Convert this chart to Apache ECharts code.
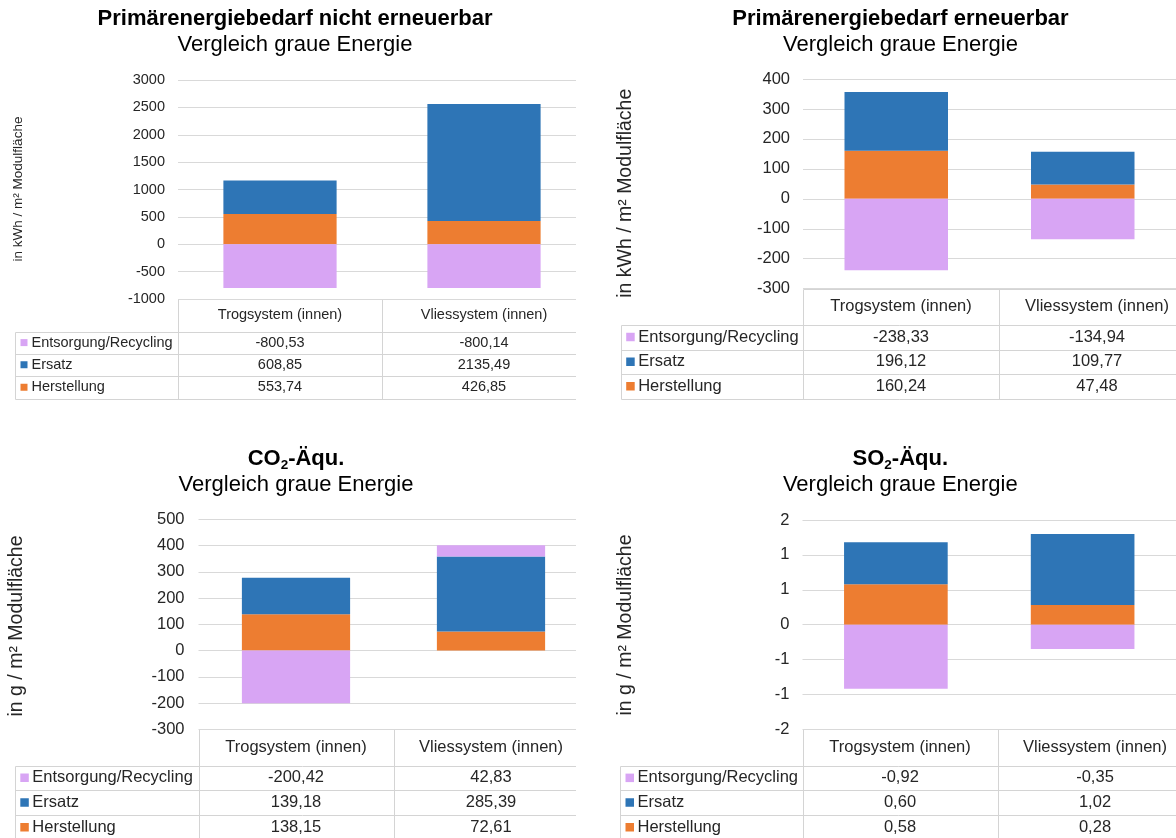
<!DOCTYPE html>
<html><head><meta charset="utf-8">
<script src="https://cdn.jsdelivr.net/npm/echarts@6/dist/echarts.min.js"></script>
<style>
html,body{margin:0;padding:0;background:#fff;width:1176px;height:838px;overflow:hidden;position:relative}
.clip{position:absolute;overflow:hidden}
.chart{position:absolute;width:1176px;height:838px}
</style></head><body>
<div class="clip" style="left:0;top:0;width:576px;height:420px"><div class="chart" id="k0" style="left:0;top:0"></div></div>
<div class="clip" style="left:596px;top:0;width:580px;height:420px"><div class="chart" id="k1" style="left:-596px;top:0"></div></div>
<div class="clip" style="left:0;top:420px;width:576px;height:418px"><div class="chart" id="k2" style="left:0;top:-420px"></div></div>
<div class="clip" style="left:596px;top:420px;width:580px;height:418px"><div class="chart" id="k3" style="left:-596px;top:-420px"></div></div>
<script>
// ---------- DATA ----------
const categories = ['Trogsystem (innen)', 'Vliessystem (innen)'];
const seriesNames = ['Herstellung', 'Ersatz', 'Entsorgung/Recycling'];

const peneHerstellung = [553.74, 426.85];
const peneErsatz = [608.85, 2135.49];
const peneEntsorgung = [-800.53, -800.14];

const peeHerstellung = [160.24, 47.48];
const peeErsatz = [196.12, 109.77];
const peeEntsorgung = [-238.33, -134.94];

const co2Herstellung = [138.15, 72.61];
const co2Ersatz = [139.18, 285.39];
const co2Entsorgung = [-200.42, 42.83];

const so2Herstellung = [0.58, 0.28];
const so2Ersatz = [0.60, 1.02];
const so2Entsorgung = [-0.92, -0.35];

const panelTitles = [['Primärenergiebedarf nicht erneuerbar'], ['Primärenergiebedarf erneuerbar'], ['CO', '2', '-Äqu.'], ['SO', '2', '-Äqu.']];
const subtitle = 'Vergleich graue Energie';
const yAxisNames = ['in kWh / m² Modulfläche', 'in kWh / m² Modulfläche', 'in g / m² Modulfläche', 'in g / m² Modulfläche'];
const yMin = [-1000, -300, -300, -1.5];
const yMax = [3000, 400, 500, 1.5];
const yStep = [500, 100, 100, 0.5];

const panelValues = [
  [peneHerstellung, peneErsatz, peneEntsorgung],
  [peeHerstellung, peeErsatz, peeEntsorgung],
  [co2Herstellung, co2Ersatz, co2Entsorgung],
  [so2Herstellung, so2Ersatz, so2Entsorgung]
];

// ---------- LAYOUT / STYLE ----------
const FONT = "'Liberation Sans', Arial, Helvetica, sans-serif";
const seriesColors = ['#ED7D31', '#2E75B6', '#D8A5F4'];
const gridColor = '#D9D9D9';
const tableColor = '#D4D4D4';
const textColor = '#262626';

const layouts = [
  {gridLeft: 178, gridTop: 80, gridH: 219, colW: 204, fs: 14.5, margin: 13, titleX: 295, titleY: 19, subY: 45, titleFs: 22,
   yLabX: 18.5, yLabY: 189, yLabFs: 13.5, legendLeft: 15, rows: [299, 331.7, 353.5, 376, 398.5], key: 7, keyOff: 5.5, textOff: 16.5},
  {gridLeft: 803, gridTop: 79, gridH: 209.7, colW: 196, fs: 16.5, margin: 13, titleX: 900.5, titleY: 19, subY: 45, titleFs: 22,
   yLabX: 625.5, yLabY: 193.3, yLabFs: 19.5, legendLeft: 620.7, rows: [288.7, 324.5, 349.5, 374, 398.5], key: 8.5, keyOff: 5.5, textOff: 17.5},
  {gridLeft: 198.5, gridTop: 519.3, gridH: 210, colW: 195, fs: 16.5, margin: 14, titleX: 296, titleY: 459, subY: 485, titleFs: 22,
   yLabX: 17, yLabY: 626, yLabFs: 19.5, legendLeft: 14.8, rows: [729.3, 765.5, 790, 815, 839.5], key: 8.5, keyOff: 5.5, textOff: 17.5},
  {gridLeft: 802.5, gridTop: 520, gridH: 209.3, colW: 195, fs: 16.5, margin: 13, titleX: 900.3, titleY: 459, subY: 485, titleFs: 22,
   yLabX: 625.5, yLabY: 625, yLabFs: 19.5, legendLeft: 620, rows: [729.3, 765.7, 790, 815, 839.5], key: 8.5, keyOff: 5.5, textOff: 17.5}
];

function fmt(v) { return v.toFixed(2).replace('.', ','); }
function tickFmt(idx) {
  if (idx === 3) return v => String(Math.sign(v) * Math.round(Math.abs(v)));
  return v => String(v);
}
function px(v) { return Math.round(v) + 0.5; }

function build(idx) {
  const L = layouts[idx];
  const vals = panelValues[idx];
  const chart = echarts.init(document.getElementById('k' + idx), null, {renderer: 'canvas', width: 1176, height: 838});
  const g = [];
  // titles
  const t = panelTitles[idx];
  if (t.length === 1) {
    g.push({type: 'text', x: L.titleX, y: L.titleY, silent: true, style: {text: t[0], align: 'center', verticalAlign: 'middle',
      fontFamily: FONT, fontSize: L.titleFs, fontWeight: 'bold', fill: '#000'}});
  } else {
    g.push({type: 'text', x: L.titleX, y: L.titleY, silent: true, style: {
      text: '{b|' + t[0] + '}{s|' + t[1] + '}{b|' + t[2] + '}', align: 'center', verticalAlign: 'middle',
      rich: {
        b: {fontFamily: FONT, fontSize: L.titleFs, fontWeight: 'bold', fill: '#000', lineHeight: 26},
        s: {fontFamily: FONT, fontSize: 13.5, fontWeight: 'bold', fill: '#000', verticalAlign: 'bottom', lineHeight: 14}
      }}});
  }
  g.push({type: 'text', x: L.titleX, y: L.subY, silent: true, style: {text: subtitle, align: 'center', verticalAlign: 'middle',
    fontFamily: FONT, fontSize: L.titleFs, fill: '#000'}});
  // y axis name
  g.push({type: 'text', x: L.yLabX, y: L.yLabY, rotation: Math.PI / 2, silent: true, style: {text: yAxisNames[idx],
    align: 'center', verticalAlign: 'middle', fontFamily: FONT, fontSize: L.yLabFs, fill: textColor}});
  // table lines
  const x0 = L.gridLeft, w = L.colW, xr = x0 + 2 * w, r = L.rows, ll = L.legendLeft;
  const line = (x1, y1, x2, y2) => g.push({type: 'line', silent: true, shape: {x1: x1, y1: y1, x2: x2, y2: y2},
    style: {stroke: tableColor, lineWidth: 1}});
  line(px(x0), px(r[0]), px(xr), px(r[0]));
  for (let i = 1; i < r.length; i++) line(px(ll), px(r[i]), px(xr), px(r[i]));
  line(px(ll), px(r[1]), px(ll), px(r[4]));
  line(px(x0), px(r[0]), px(x0), px(r[4]));
  line(px(x0 + w), px(r[0]), px(x0 + w), px(r[4]));
  line(px(xr), px(r[0]), px(xr), px(r[4]));
  // header
  categories.forEach((c, ci) => {
    g.push({type: 'text', x: x0 + w * (ci + 0.5), y: (r[0] + r[1]) / 2, silent: true, style: {text: c, align: 'center',
      verticalAlign: 'middle', fontFamily: FONT, fontSize: L.fs, fill: textColor}});
  });
  // rows (Entsorgung, Ersatz, Herstellung)
  [2, 1, 0].forEach((si, ri) => {
    const yc = (r[ri + 1] + r[ri + 2]) / 2;
    g.push({type: 'rect', silent: true, shape: {x: ll + L.keyOff, y: yc - L.key / 2, width: L.key, height: L.key},
      style: {fill: seriesColors[si]}});
    g.push({type: 'text', x: ll + L.textOff, y: yc, silent: true, style: {text: seriesNames[si], align: 'left',
      verticalAlign: 'middle', fontFamily: FONT, fontSize: L.fs, fill: textColor}});
    categories.forEach((c, ci) => {
      g.push({type: 'text', x: x0 + w * (ci + 0.5), y: yc, silent: true, style: {text: fmt(vals[si][ci]), align: 'center',
        verticalAlign: 'middle', fontFamily: FONT, fontSize: L.fs, fill: textColor}});
    });
  });

  chart.setOption({
    animation: false,
    backgroundColor: 'transparent',
    grid: {left: L.gridLeft, top: L.gridTop, width: 2 * L.colW, height: L.gridH, containLabel: false},
    xAxis: {type: 'category', data: categories, axisLine: {show: false}, axisTick: {show: false}, axisLabel: {show: false}, splitLine: {show: false}},
    yAxis: {type: 'value', min: yMin[idx], max: yMax[idx], interval: yStep[idx],
      axisLine: {show: false}, axisTick: {show: false},
      axisLabel: {fontFamily: FONT, fontSize: L.fs, color: textColor, margin: L.margin, formatter: tickFmt(idx)},
      splitLine: {show: true, lineStyle: {color: gridColor, width: 1}}},
    series: seriesNames.map((n, si) => ({
      type: 'bar', name: n, stack: 'total', data: vals[si], barWidth: '55.5%',
      itemStyle: {color: seriesColors[si]}, silent: true, emphasis: {disabled: true}
    })),
    graphic: {elements: g}
  });
}
[0, 1, 2, 3].forEach(build);
</script>
</body></html>
